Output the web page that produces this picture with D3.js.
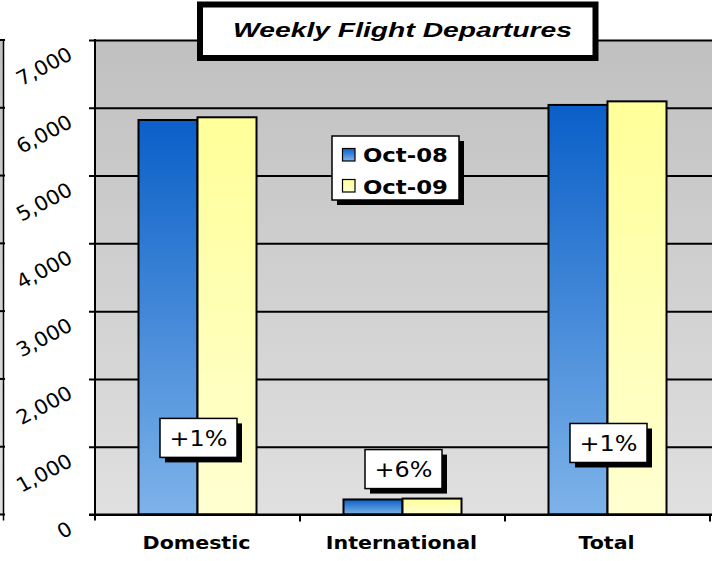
<!DOCTYPE html>
<html>
<head>
<meta charset="utf-8">
<script src="https://cdn.jsdelivr.net/npm/d3@7"></script>
<style>
  html, body { margin: 0; padding: 0; background: #fff; }
  svg { display: block; }
</style>
</head>
<body>
<svg id="chart" width="712" height="561"></svg>
<script>
// Weekly flight departures, October 2008 vs October 2009
const categories = ["Domestic", "International", "Total"];
const seriesNames = ["Oct-08", "Oct-09"];
const oct08 = [5820, 222, 6042];
const oct09 = [5860, 235, 6095];
const yTicks = [0, 1000, 2000, 3000, 4000, 5000, 6000, 7000];
const titleText = "Weekly Flight Departures";

// ---- layout ----
const W = 712, H = 561;
const plot = { left: 95, right: 710, top: 40, bottom: 514.5 };
const badgeLevel = [1130, 670, 1055];   // value height at which each change badge sits

const svg = d3.select("#chart");
const defs = svg.append("defs");

function vGrad(id, c0, c1, units) {
  const g = defs.append("linearGradient").attr("id", id)
    .attr("x1", 0).attr("x2", 0);
  if (units) {
    g.attr("gradientUnits", "userSpaceOnUse")
      .attr("y1", plot.top).attr("y2", plot.bottom);
  } else {
    g.attr("y1", 0).attr("y2", 1);
  }
  g.append("stop").attr("offset", 0).attr("stop-color", c0);
  g.append("stop").attr("offset", 1).attr("stop-color", c1);
}
vGrad("bgGrad", "#c0c0c0", "#e0e0e0", true);
vGrad("blueGrad", "#0a5fc8", "#7eb3e9");
vGrad("yellowGrad", "#ffff99", "#ffffd2");
const fills = ["url(#blueGrad)", "url(#yellowGrad)"];

const y = d3.scaleLinear().domain([0, 7000]).range([plot.bottom, plot.top]);
const x0 = d3.scaleBand().domain(categories).range([plot.left, plot.right]).padding(0);
const x1 = d3.scaleBand().domain(seriesNames).range([0, x0.bandwidth()])
  .paddingInner(0).paddingOuter(0.737);

// plot background
svg.append("rect")
  .attr("x", plot.left).attr("y", plot.top)
  .attr("width", W - plot.left).attr("height", plot.bottom - plot.top)
  .attr("fill", "url(#bgGrad)");

// sliver of the neighbouring panel at the far left
svg.append("rect").attr("x", 0).attr("y", plot.top)
  .attr("width", 3).attr("height", plot.bottom - plot.top)
  .attr("fill", "url(#bgGrad)");
svg.append("line").attr("x1", 3.5).attr("x2", 3.5)
  .attr("y1", plot.top - 1).attr("y2", plot.bottom + 6)
  .attr("stroke", "#000").attr("stroke-width", 1.5);
svg.append("g").selectAll("line").data(yTicks).join("line")
  .attr("x1", 0).attr("x2", 5)
  .attr("y1", d => y(d)).attr("y2", d => y(d))
  .attr("stroke", "#000").attr("stroke-width", 2);

// gridlines with tick stubs
const grid = d3.axisLeft(y).tickValues(yTicks).tickFormat("")
  .tickSizeInner(-(W - plot.left)).tickSizeOuter(0);
const gridG = svg.append("g").attr("transform", `translate(${plot.left},0)`).call(grid);
gridG.select(".domain").remove();
gridG.selectAll(".tick line").attr("stroke", "#000").attr("stroke-width", 2)
  .attr("x1", -6);

// bars
const series = [oct08, oct09];
const barG = svg.append("g");
categories.forEach((c, ci) => {
  seriesNames.forEach((s, si) => {
    const v = series[si][ci];
    barG.append("rect")
      .attr("x", x0(c) + x1(s))
      .attr("y", y(v))
      .attr("width", x1.bandwidth())
      .attr("height", y(0) - y(v))
      .attr("fill", fills[si])
      .attr("stroke", "#000")
      .attr("stroke-width", 2);
  });
});

// axes lines
svg.append("line").attr("x1", plot.left).attr("x2", plot.left)
  .attr("y1", plot.top - 1).attr("y2", plot.bottom + 6)
  .attr("stroke", "#000").attr("stroke-width", 2);
svg.append("line").attr("x1", plot.left - 6).attr("x2", W)
  .attr("y1", plot.bottom).attr("y2", plot.bottom)
  .attr("stroke", "#000").attr("stroke-width", 2);
const boundaries = categories.map(c => x0(c) + x0.bandwidth());
svg.append("g").selectAll("line").data(boundaries).join("line")
  .attr("x1", d => d).attr("x2", d => d)
  .attr("y1", plot.bottom).attr("y2", plot.bottom + 7)
  .attr("stroke", "#000").attr("stroke-width", 2);

// horizontally stretched text helper
function stretchedText(parent, tx, ty, str, opts) {
  const g = parent.append("g")
    .attr("transform", `translate(${tx},${ty}) scale(${opts.k || 1},1)` +
      (opts.rotate ? ` rotate(${opts.rotate})` : ""));
  const t = g.append("text").text(str)
    .attr("x", 0).attr("y", 0)
    .attr("font-family", opts.family || "'DejaVu Sans', Verdana, sans-serif")
    .attr("font-size", opts.size)
    .attr("font-weight", opts.weight || "normal")
    .attr("font-style", opts.style || "normal")
    .attr("text-anchor", opts.anchor || "middle")
    .attr("fill", "#000");
  if (opts.width) {
    const w = t.node().getComputedTextLength();
    g.attr("transform", `translate(${tx},${ty}) scale(${opts.width / w},1)`);
  }
  return t;
}

// y tick labels
yTicks.forEach(v => {
  stretchedText(svg, 74, y(v) + 18.5, d3.format(",")(v),
    { size: 20, anchor: "end", k: 1.05, rotate: -29 });
});

// category labels
const catK = (() => {
  const probe = svg.append("text").text("Domestic")
    .attr("font-family", "'DejaVu Sans', Verdana, sans-serif")
    .attr("font-size", 17).attr("font-weight", "bold");
  const w = probe.node().getComputedTextLength();
  probe.remove();
  return 108 / w;
})();
categories.forEach(c => {
  stretchedText(svg, x0(c) + x0.bandwidth() / 2 - 1, 549, c,
    { size: 17, weight: "bold", k: catK });
});

// change badges
const fmtPct = d => (d >= 0 ? "+" : "") + d + "%";
categories.forEach((c, ci) => {
  const pct = Math.round((oct09[ci] / oct08[ci] - 1) * 100);
  const cx = x0(c) + x0.bandwidth() / 2 + 1;
  const cy = y(badgeLevel[ci]);
  const bw = 77, bh = 39;
  svg.append("rect").attr("x", cx - bw / 2 + 5).attr("y", cy - bh / 2 + 5)
    .attr("width", bw).attr("height", bh).attr("fill", "#000");
  svg.append("rect").attr("x", cx - bw / 2).attr("y", cy - bh / 2)
    .attr("width", bw).attr("height", bh)
    .attr("fill", "#fff").attr("stroke", "#000").attr("stroke-width", 1.5);
  stretchedText(svg, cx, cy + 8, fmtPct(pct), { size: 21, width: 58 });
});

// legend
const lg = svg.append("g").attr("transform", "translate(332,136)");
lg.append("rect").attr("x", 5).attr("y", 5).attr("width", 127).attr("height", 64).attr("fill", "#000");
lg.append("rect").attr("width", 127).attr("height", 64)
  .attr("fill", "#fff").attr("stroke", "#000").attr("stroke-width", 1.5);
seriesNames.forEach((s, i) => {
  lg.append("rect").attr("x", 10.5).attr("y", 12.5 + i * 31)
    .attr("width", 12.5).attr("height", 12.5)
    .attr("fill", fills[i]).attr("stroke", "#000").attr("stroke-width", 1.2);
  stretchedText(lg, 31, 26 + i * 32, s,
    { size: 19, weight: "bold", anchor: "start", width: 85 });
});

// title box
svg.append("rect").attr("x", 200).attr("y", 4.5)
  .attr("width", 395.5).attr("height", 53.5)
  .attr("fill", "#fff").attr("stroke", "#000").attr("stroke-width", 6);
stretchedText(svg, 402.5, 37, titleText,
  { family: "'Liberation Sans', Arial, sans-serif", size: 19.5,
    weight: "bold", style: "italic", width: 339 });
</script>
</body>
</html>
